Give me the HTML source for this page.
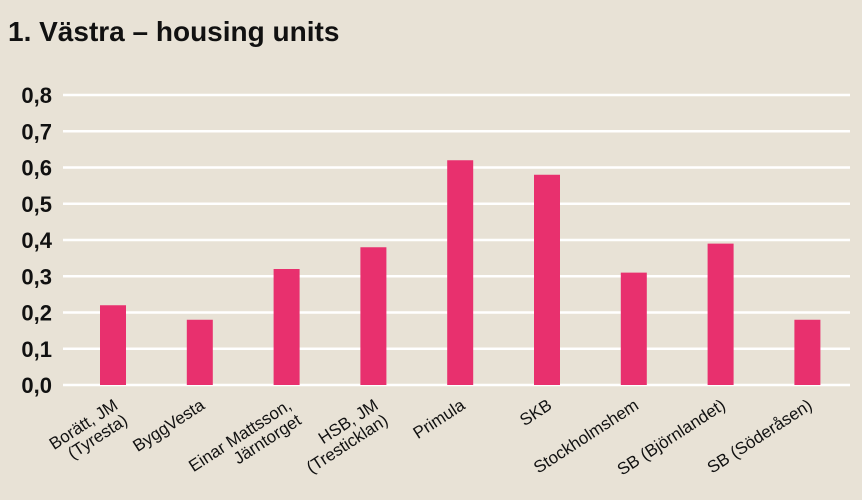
<!DOCTYPE html>
<html><head><meta charset="utf-8"><style>
html,body{margin:0;padding:0;background:#e8e2d6;}
svg{display:block;font-family:"Liberation Sans",sans-serif;}
</style></head><body>
<svg id="chart" width="862" height="500">
<rect width="862" height="500" fill="#e8e2d6"/>
<text x="8" y="41" font-size="28" font-weight="bold" fill="#111">1. Västra – housing units</text>
<g id="grid"></g><g id="bars"></g><g id="xlabels"></g>
</svg>
<script>
const categories=[["Borätt, JM","(Tyresta)"],["ByggVesta"],["Einar Mattsson,","Järntorget"],["HSB, JM","(Tresticklan)"],["Primula"],["SKB"],["Stockholmshem"],["SB (Björnlandet)"],["SB (Söderåsen)"]];
const values=[0.22,0.18,0.32,0.38,0.62,0.58,0.31,0.39,0.18];
const ticks=[0,0.1,0.2,0.3,0.4,0.5,0.6,0.7,0.8];
const tickLabels=["0,0","0,1","0,2","0,3","0,4","0,5","0,6","0,7","0,8"];
const NS="http://www.w3.org/2000/svg";
const y=v=>385-v/0.8*290;
const x=i=>113+i*86.8;
function mk(t,a,p){const e=document.createElementNS(NS,t);for(const k in a)e.setAttribute(k,a[k]);p.appendChild(e);return e;}
const grid=document.getElementById('grid');
ticks.forEach((t,i)=>{
 const l=mk('line',{x1:63,x2:850,y1:y(t),y2:y(t),stroke:'#fff','stroke-width':2.5},grid);
 
 
 const tx=mk('text',{x:52,y:y(t)+8,'text-anchor':'end','font-size':22,'font-weight':'bold',fill:'#111'},grid);
 tx.textContent=tickLabels[i];
 
 
});
const bars=document.getElementById('bars'),xl=document.getElementById('xlabels');
values.forEach((v,i)=>{
 const r=mk('rect',{x:x(i)-13,width:26,y:y(v),height:385-y(v),fill:'#e8306e'},bars);
 
 
 const ax=x(i)+6,ay=408;
 const t=mk('text',{transform:`translate(${ax},${ay}) rotate(-33)`,'text-anchor':'end','font-size':17,fill:'#111'},xl);
 
 
 const lines=categories[i];
 lines.forEach((s,j)=>{const ts=mk('tspan',{x:0,y:j*18},t);ts.textContent=s;});
});
</script>
</body></html>
